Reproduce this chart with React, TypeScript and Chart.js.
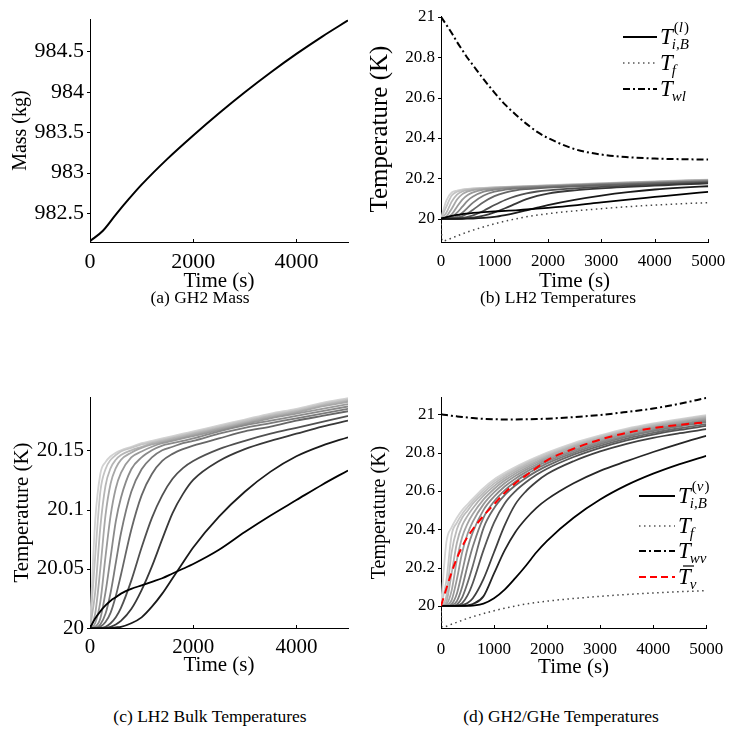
import React, { useEffect, useRef } from "react";
import { Chart, registerables } from "chart.js";
Chart.register(...registerables);

// ---------------- DATA ----------------
const TIME = [0, 100, 200, 300, 400, 500, 600, 800, 1000, 1200, 1400, 1600, 1800, 2000, 2500, 3000, 3500, 4000, 4500, 5000];

const MASS_TIME = [0, 250, 500, 750, 1000, 1500, 2000, 2500, 3000, 3500, 4000, 4500, 5000];
const MASS = [982.15, 982.28, 982.48, 982.67, 982.85, 983.17, 983.46, 983.735, 983.995, 984.24, 984.47, 984.685, 984.885];

// LH2 bulk temperatures (light / fast -> dark / slow)
const L1 = [20, 20.09, 20.13, 20.14, 20.145, 20.148, 20.15, 20.153, 20.156, 20.158, 20.16, 20.162, 20.164, 20.166, 20.171, 20.176, 20.181, 20.185, 20.19, 20.194];
const L2 = [20, 20.06, 20.115, 20.134, 20.142, 20.146, 20.149, 20.152, 20.155, 20.157, 20.159, 20.161, 20.163, 20.165, 20.17, 20.175, 20.18, 20.184, 20.189, 20.193];
const L3 = [20, 20.03, 20.085, 20.12, 20.135, 20.142, 20.146, 20.15, 20.153, 20.156, 20.158, 20.16, 20.162, 20.164, 20.169, 20.174, 20.179, 20.183, 20.188, 20.192];
const L4 = [20, 20.012, 20.05, 20.095, 20.122, 20.135, 20.142, 20.148, 20.152, 20.155, 20.157, 20.159, 20.161, 20.163, 20.168, 20.173, 20.178, 20.182, 20.187, 20.191];
const L5 = [20, 20.004, 20.022, 20.06, 20.095, 20.118, 20.131, 20.144, 20.149, 20.153, 20.156, 20.158, 20.16, 20.162, 20.167, 20.172, 20.177, 20.181, 20.185, 20.189];
const L6 = [20, 20.001, 20.008, 20.03, 20.06, 20.09, 20.11, 20.134, 20.144, 20.15, 20.154, 20.156, 20.158, 20.16, 20.166, 20.171, 20.175, 20.179, 20.183, 20.187];
const L7 = [20, 20, 20.003, 20.012, 20.03, 20.055, 20.08, 20.115, 20.134, 20.144, 20.15, 20.153, 20.156, 20.158, 20.164, 20.169, 20.173, 20.177, 20.181, 20.185];
const L8 = [20, 20, 20.001, 20.005, 20.013, 20.027, 20.045, 20.083, 20.112, 20.13, 20.141, 20.147, 20.151, 20.154, 20.16, 20.166, 20.17, 20.175, 20.179, 20.183];
const L9 = [20, 20, 20, 20.001, 20.004, 20.009, 20.017, 20.04, 20.068, 20.093, 20.112, 20.126, 20.135, 20.141, 20.151, 20.158, 20.164, 20.169, 20.174, 20.179];
const L10 = [20, 20, 20, 20, 20.001, 20.003, 20.006, 20.016, 20.032, 20.052, 20.075, 20.097, 20.113, 20.125, 20.141, 20.151, 20.158, 20.164, 20.17, 20.175];
const L11 = [20, 20, 20, 20, 20, 20.0005, 20.001, 20.004, 20.009, 20.018, 20.029, 20.042, 20.055, 20.068, 20.094, 20.115, 20.132, 20.145, 20.154, 20.161];
const L12 = [20, 20.008, 20.014, 20.019, 20.023, 20.026, 20.029, 20.033, 20.036, 20.039, 20.042, 20.046, 20.05, 20.054, 20.066, 20.081, 20.095, 20.108, 20.121, 20.133];

// GH2/GHe ullage temperatures (light / fast -> dark / slow)
const V1 = [20, 20.33, 20.41, 20.46, 20.5, 20.53, 20.56, 20.615, 20.66, 20.695, 20.725, 20.752, 20.777, 20.8, 20.85, 20.89, 20.925, 20.952, 20.975, 20.996];
const V2 = [20, 20.13, 20.37, 20.435, 20.48, 20.515, 20.547, 20.603, 20.65, 20.686, 20.717, 20.745, 20.77, 20.793, 20.844, 20.885, 20.92, 20.948, 20.971, 20.992];
const V3 = [20, 20.05, 20.28, 20.4, 20.46, 20.497, 20.533, 20.59, 20.638, 20.677, 20.709, 20.737, 20.763, 20.786, 20.838, 20.879, 20.915, 20.943, 20.966, 20.987];
const V4 = [20, 20.02, 20.17, 20.33, 20.42, 20.47, 20.51, 20.575, 20.625, 20.666, 20.7, 20.729, 20.755, 20.779, 20.831, 20.873, 20.909, 20.938, 20.961, 20.982];
const V5 = [20, 20.008, 20.08, 20.24, 20.36, 20.43, 20.48, 20.555, 20.61, 20.654, 20.69, 20.72, 20.747, 20.771, 20.824, 20.866, 20.903, 20.932, 20.956, 20.977];
const V6 = [20, 20.003, 20.03, 20.14, 20.28, 20.375, 20.44, 20.53, 20.592, 20.64, 20.678, 20.71, 20.738, 20.763, 20.816, 20.859, 20.896, 20.926, 20.95, 20.972];
const V7 = [20, 20.001, 20.01, 20.065, 20.18, 20.3, 20.385, 20.5, 20.57, 20.623, 20.664, 20.698, 20.728, 20.754, 20.808, 20.852, 20.889, 20.919, 20.944, 20.966];
const V8 = [20, 20, 20.003, 20.025, 20.1, 20.21, 20.31, 20.46, 20.545, 20.603, 20.648, 20.685, 20.716, 20.744, 20.799, 20.844, 20.882, 20.912, 20.937, 20.959];
const V9 = [20, 20, 20.001, 20.008, 20.045, 20.12, 20.21, 20.405, 20.51, 20.578, 20.628, 20.668, 20.702, 20.731, 20.789, 20.835, 20.873, 20.903, 20.927, 20.948];
const V10 = [20, 20, 20, 20.002, 20.015, 20.055, 20.12, 20.29, 20.435, 20.535, 20.598, 20.645, 20.684, 20.716, 20.777, 20.825, 20.864, 20.894, 20.918, 20.939];
const V11 = [20, 20, 20, 20, 20.004, 20.015, 20.04, 20.14, 20.28, 20.42, 20.53, 20.598, 20.648, 20.688, 20.755, 20.806, 20.846, 20.877, 20.901, 20.922];
const V12 = [20, 20, 20, 20, 20, 20.003, 20.01, 20.05, 20.17, 20.29, 20.385, 20.455, 20.512, 20.556, 20.64, 20.705, 20.755, 20.803, 20.847, 20.887];
const V13 = [20, 20, 20, 20, 20, 20, 20.002, 20.012, 20.04, 20.085, 20.145, 20.21, 20.28, 20.34, 20.46, 20.555, 20.63, 20.69, 20.74, 20.783];
const V_MEAN = [20, 20.09, 20.175, 20.25, 20.31, 20.36, 20.4, 20.47, 20.53, 20.59, 20.64, 20.68, 20.72, 20.76, 20.82, 20.868, 20.903, 20.928, 20.945, 20.958];

const T_WL = [21.0, 20.96, 20.92, 20.875, 20.835, 20.795, 20.76, 20.69, 20.625, 20.565, 20.515, 20.47, 20.43, 20.4, 20.345, 20.318, 20.305, 20.298, 20.295, 20.293];
const T_WV = [21.0, 20.996, 20.992, 20.989, 20.986, 20.983, 20.98, 20.976, 20.974, 20.973, 20.973, 20.974, 20.975, 20.977, 20.985, 20.996, 21.012, 21.03, 21.055, 21.085];

const TF_TIME = [0, 20, 250, 500, 1000, 1500, 2000, 3000, 4000, 5000];
const T_F = [20, 19.89, 19.91, 19.935, 19.975, 20.005, 20.025, 20.05, 20.068, 20.08];

// tick labels
const A_XTICKS = [0, 2000, 4000];
const A_YTICKS = [982.5, 983, 983.5, 984, 984.5];
const B_XTICKS = [0, 1000, 2000, 3000, 4000, 5000];
const B_YTICKS = [20, 20.2, 20.4, 20.6, 20.8, 21];
const C_XTICKS = [0, 2000, 4000];
const C_YTICKS = [20, 20.05, 20.1, 20.15];
const D_XTICKS = [0, 1000, 2000, 3000, 4000, 5000];
const D_YTICKS = [20, 20.2, 20.4, 20.6, 20.8, 21];

const CAPTIONS = ["(a) GH2 Mass", "(b) LH2 Temperatures", "(c) LH2 Bulk Temperatures", "(d) GH2/GHe Temperatures"];

// ---------------- STYLE ----------------
const FONT = '"Liberation Serif", "Times New Roman", serif';
const LH2_SERIES = [L1, L2, L3, L4, L5, L6, L7, L8, L9, L10, L11, L12];
const LH2_COLORS = ["#d2d2d2", "#c4c4c4", "#b6b6b6", "#a8a8a8", "#9a9a9a", "#8a8a8a", "#7a7a7a", "#666666", "#505050", "#383838", "#1a1a1a", "#000000"];
const GH2_SERIES = [V1, V2, V3, V4, V5, V6, V7, V8, V9, V10, V11, V12, V13];
const GH2_COLORS = ["#d4d4d4", "#c8c8c8", "#bcbcbc", "#b0b0b0", "#a4a4a4", "#989898", "#8a8a8a", "#7c7c7c", "#6a6a6a", "#555555", "#404040", "#262626", "#000000"];

const DOT = [1.5, 3.5];
const DASHDOT = [7, 3, 2, 3];
const DASH = [8, 5];

const pts = (xs: number[], ys: number[]) => xs.map((x, i) => ({ x, y: ys[i] }));
const line = (xs: number[], ys: number[], color: string, width: number, dash: number[] = []) => ({
  data: pts(xs, ys),
  borderColor: color,
  borderWidth: width,
  borderDash: dash,
  pointRadius: 0,
  fill: false,
  cubicInterpolationMode: "monotone",
});

const fmt = (v: number) => String(Math.round(v * 1000) / 1000);

type LegItem = { kind: "solid" | "dotted" | "dashdot" | "dashed"; color: string; sub: string; sup?: string; bar?: boolean; y: number };

type PanelCfg = {
  left: number; top: number; width: number; height: number;
  area: { l: number; t: number; r: number; b: number };
  yMin: number; yMax: number;
  xTicks: number[]; yTicks: number[];
  yTitle: string;
  tickSize: number; xTitleSize: number; yTitleSize: number;
  xTickCenter: number; xTitleCenter: number; yTitleCenter: number;
  datasets: any[];
  legend?: { x0: number; x1: number; items: LegItem[] };
};

const tickPlugin = {
  id: "innerTicks",
  afterDraw(chart: any) {
    const { ctx, chartArea, scales } = chart;
    ctx.save();
    ctx.strokeStyle = "#000";
    ctx.lineWidth = 1;
    scales.x.ticks.forEach((t: any) => {
      const px = Math.round(scales.x.getPixelForValue(t.value)) + 0.5;
      ctx.beginPath();
      ctx.moveTo(px, chartArea.bottom);
      ctx.lineTo(px, chartArea.bottom - 3);
      ctx.stroke();
    });
    scales.y.ticks.forEach((t: any) => {
      const py = Math.round(scales.y.getPixelForValue(t.value)) + 0.5;
      ctx.beginPath();
      ctx.moveTo(chartArea.left, py);
      ctx.lineTo(chartArea.left - 3, py);
      ctx.stroke();
    });
    ctx.restore();
  },
};

function legendPlugin(cfg: PanelCfg) {
  return {
    id: "texLegend",
    afterDraw(chart: any) {
      if (!cfg.legend) return;
      const ctx = chart.ctx;
      const { x0, x1, items } = cfg.legend;
      ctx.save();
      items.forEach((it) => {
        const y = it.y - cfg.top;
        const a = x0 - cfg.left;
        const b = x1 - cfg.left;
        ctx.beginPath();
        ctx.strokeStyle = it.color;
        ctx.lineWidth = it.kind === "dotted" ? 1.5 : 2;
        ctx.setLineDash(it.kind === "dotted" ? DOT : it.kind === "dashdot" ? DASHDOT : it.kind === "dashed" ? [7, 4] : []);
        ctx.moveTo(a, y);
        ctx.lineTo(b, y);
        ctx.stroke();
        ctx.setLineDash([]);
        const tx = b + 3;
        const base = y + 7;
        ctx.fillStyle = "#000";
        ctx.textAlign = "left";
        ctx.textBaseline = "alphabetic";
        ctx.font = `italic 23px ${FONT}`;
        ctx.fillText("T", tx, base);
        const tw = ctx.measureText("T").width;
        if (it.bar) {
          ctx.beginPath();
          ctx.strokeStyle = "#000";
          ctx.lineWidth = 1.2;
          ctx.moveTo(tx + 5, base - 18);
          ctx.lineTo(tx + 16, base - 18);
          ctx.stroke();
        }
        ctx.font = `italic 15px ${FONT}`;
        ctx.fillText(it.sub, tx + tw - 1, base + 5);
        if (it.sup) {
          let sx = tx + tw + 1;
          const sy = base - 12;
          const inner = it.sup.replace(/[()]/g, "");
          ctx.font = `15px ${FONT}`;
          ctx.fillText("(", sx, sy);
          sx += ctx.measureText("(").width;
          ctx.font = `italic 15px ${FONT}`;
          ctx.fillText(inner, sx, sy);
          sx += ctx.measureText(inner).width + 1;
          ctx.font = `15px ${FONT}`;
          ctx.fillText(")", sx, sy);
        }
      });
      ctx.restore();
    },
  };
}

function buildConfig(cfg: PanelCfg): any {
  const yAxisW = cfg.area.l - cfg.left;
  const padRight = cfg.left + cfg.width - cfg.area.r;
  const padTop = cfg.area.t - cfg.top;
  const xAxisH = cfg.top + cfg.height - cfg.area.b;
  const xTickPad = cfg.xTickCenter - cfg.area.b - 0.6 * cfg.tickSize;
  const xTitlePadB = Math.max(0, cfg.top + cfg.height - cfg.xTitleCenter - 0.6 * cfg.xTitleSize);
  const yTitlePadT = Math.max(0, cfg.yTitleCenter - cfg.left - 0.6 * cfg.yTitleSize);
  return {
    type: "line",
    data: { datasets: cfg.datasets },
    options: {
      responsive: false,
      animation: false,
      events: [],
      layout: { padding: { left: 0, right: padRight, top: padTop, bottom: 0 } },
      plugins: { legend: { display: false }, tooltip: { enabled: false } },
      scales: {
        x: {
          type: "linear",
          min: 0,
          max: 5000,
          afterBuildTicks: (s: any) => { s.ticks = cfg.xTicks.map((v) => ({ value: v })); },
          afterFit: (s: any) => { s.height = xAxisH; },
          grid: { display: false, drawTicks: false },
          border: { display: true, color: "#000", width: 1 },
          ticks: { padding: xTickPad, color: "#000", font: { family: FONT, size: cfg.tickSize }, maxRotation: 0, autoSkip: false, callback: (v: any) => fmt(Number(v)) },
          title: { display: true, text: "Time (s)", color: "#000", font: { family: FONT, size: cfg.xTitleSize }, padding: { top: 0, bottom: xTitlePadB } },
        },
        y: {
          type: "linear",
          min: cfg.yMin,
          max: cfg.yMax,
          afterBuildTicks: (s: any) => { s.ticks = cfg.yTicks.map((v) => ({ value: v })); },
          afterFit: (s: any) => { s.width = yAxisW; },
          grid: { display: false, drawTicks: false },
          border: { display: true, color: "#000", width: 1 },
          ticks: { padding: 6, color: "#000", font: { family: FONT, size: cfg.tickSize }, autoSkip: false, callback: (v: any) => fmt(Number(v)) },
          title: { display: true, text: cfg.yTitle, color: "#000", font: { family: FONT, size: cfg.yTitleSize }, padding: { top: yTitlePadT, bottom: 0 } },
        },
      },
    },
    plugins: [tickPlugin, legendPlugin(cfg)],
  };
}

function Panel({ cfg }: { cfg: PanelCfg }) {
  const ref = useRef<HTMLCanvasElement>(null);
  useEffect(() => {
    const chart = new Chart(ref.current as HTMLCanvasElement, buildConfig(cfg));
    return () => chart.destroy();
  }, []);
  return (
    <canvas
      ref={ref}
      width={cfg.width}
      height={cfg.height}
      style={{ position: "absolute", left: cfg.left, top: cfg.top, width: cfg.width, height: cfg.height }}
    />
  );
}

const lh2Sets = (w: number) => LH2_SERIES.map((s, i) => line(TIME, s, LH2_COLORS[i], w)).reverse();
const gh2Sets = (w: number) => GH2_SERIES.map((s, i) => line(TIME, s, GH2_COLORS[i], w)).reverse();

const PANELS: PanelCfg[] = [
  {
    left: 0, top: 0, width: 360, height: 300,
    area: { l: 90, t: 12, r: 348, b: 242 },
    yMin: 982.14, yMax: 984.9,
    xTicks: A_XTICKS, yTicks: A_YTICKS, yTitle: "Mass (kg)",
    tickSize: 22, xTitleSize: 21, yTitleSize: 20,
    xTickCenter: 262, xTitleCenter: 281, yTitleCenter: 21,
    datasets: [line(MASS_TIME, MASS, "#000", 2)],
  },
  {
    left: 360, top: 0, width: 375, height: 300,
    area: { l: 441, t: 12, r: 709, b: 242 },
    yMin: 19.885, yMax: 21.003,
    xTicks: B_XTICKS, yTicks: B_YTICKS, yTitle: "Temperature (K)",
    tickSize: 17, xTitleSize: 21, yTitleSize: 25,
    xTickCenter: 262, xTitleCenter: 281, yTitleCenter: 380,
    datasets: [
      ...lh2Sets(1.8),
      line(TIME, T_WL, "#000", 2, DASHDOT),
      line(TF_TIME, T_F, "#444", 1.5, DOT),
    ],
    legend: {
      x0: 623, x1: 657,
      items: [
        { kind: "solid", color: "#000", sub: "i,B", sup: "(l)", y: 37 },
        { kind: "dotted", color: "#555", sub: "f", y: 63 },
        { kind: "dashdot", color: "#000", sub: "wl", y: 89 },
      ],
    },
  },
  {
    left: 0, top: 370, width: 360, height: 320,
    area: { l: 90, t: 397, r: 348, b: 628 },
    yMin: 20, yMax: 20.195,
    xTicks: C_XTICKS, yTicks: C_YTICKS, yTitle: "Temperature (K)",
    tickSize: 21, xTitleSize: 21, yTitleSize: 21,
    xTickCenter: 647, xTitleCenter: 665, yTitleCenter: 22,
    datasets: lh2Sets(1.8),
  },
  {
    left: 360, top: 370, width: 375, height: 320,
    area: { l: 441, t: 397, r: 709, b: 628 },
    yMin: 19.885, yMax: 21.09,
    xTicks: D_XTICKS, yTicks: D_YTICKS, yTitle: "Temperature (K)",
    tickSize: 17, xTitleSize: 21, yTitleSize: 20,
    xTickCenter: 650, xTitleCenter: 667, yTitleCenter: 380,
    datasets: [
      line(TIME, V_MEAN, "#ff0000", 2, DASH),
      ...gh2Sets(1.8),
      line(TIME, T_WV, "#000", 2, DASHDOT),
      line(TF_TIME, T_F, "#444", 1.5, DOT),
    ],
    legend: {
      x0: 639, x1: 675,
      items: [
        { kind: "solid", color: "#000", sub: "i,B", sup: "(v)", y: 496 },
        { kind: "dotted", color: "#555", sub: "f", y: 526 },
        { kind: "dashdot", color: "#000", sub: "wv", y: 551 },
        { kind: "dashed", color: "#ff0000", sub: "v", bar: true, y: 577 },
      ],
    },
  },
];

const CAPTION_POS = [
  { cx: 200, cy: 297 },
  { cx: 558, cy: 297 },
  { cx: 210, cy: 716 },
  { cx: 561, cy: 716 },
];

export default function App() {
  return (
    <div style={{ position: "absolute", left: 0, top: 0, width: 735, height: 733, background: "#fff", overflow: "hidden" }}>
      {PANELS.map((p, i) => (
        <Panel key={i} cfg={p} />
      ))}
      {CAPTIONS.map((c, i) => (
        <div
          key={"c" + i}
          style={{
            position: "absolute",
            left: CAPTION_POS[i].cx - 160,
            top: CAPTION_POS[i].cy - 10,
            width: 320,
            lineHeight: "20px",
            textAlign: "center",
            fontFamily: FONT,
            fontSize: 17.5,
            color: "#000",
            whiteSpace: "nowrap",
          }}
        >
          {c}
        </div>
      ))}
    </div>
  );
}
